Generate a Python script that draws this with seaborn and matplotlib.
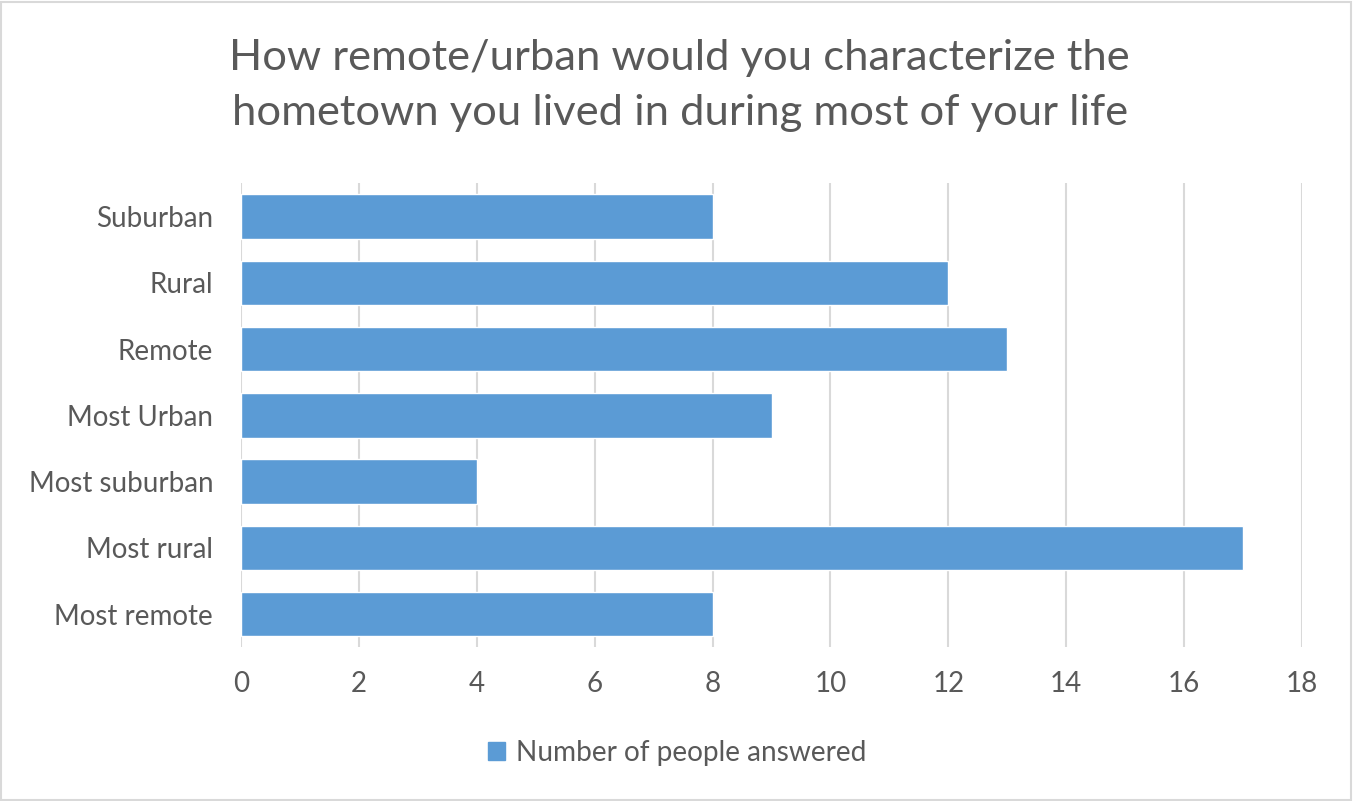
import pandas as pd
import matplotlib.pyplot as plt
import seaborn as sns
from matplotlib.patches import Rectangle, Patch

sns.set_theme(style="white")
plt.rcParams['font.family'] = ['Lato', 'DejaVu Sans']

categories = ['Suburban', 'Rural', 'Remote', 'Most Urban', 'Most suburban', 'Most rural', 'Most remote']
counts = [8, 12, 13, 9, 4, 17, 8]
x_ticks = [0, 2, 4, 6, 8, 10, 12, 14, 16, 18]

df = pd.DataFrame({'category': categories, 'count': counts})

text_color = '#595959'
bar_color = '#5B9BD5'

fig = plt.figure(figsize=(13.54, 8.01), dpi=100)
ax = fig.add_axes([0.178, 0.192, 0.7836, 0.579])

sns.barplot(data=df, x='count', y='category', color=bar_color, saturation=1,
            width=0.67, ax=ax, order=categories)

ax.set_xlim(0, 18)
ax.set_xticks(x_ticks)
ax.xaxis.grid(True, color='#D9D9D9', linewidth=1.5)
ax.set_axisbelow(True)
for s in ax.spines.values():
    s.set_visible(False)
ax.set_xlabel('')
ax.set_ylabel('')
ax.tick_params(axis='both', length=0, labelsize=20, colors=text_color)
ax.tick_params(axis='y', pad=20)
ax.tick_params(axis='x', pad=17)

fig.text(0.502, 0.893, 'How remote/urban would you characterize the\nhometown you lived in during most of your life',
         ha='center', va='center', fontsize=31.3, color=text_color, linespacing=1.55)

ax.legend(handles=[Patch(color=bar_color, label='Number of people answered')],
          loc='center', bbox_to_anchor=(0.5, 0.06), bbox_transform=fig.transFigure,
          frameon=False, fontsize=20.2, labelcolor=text_color,
          handlelength=0.6, handleheight=0.6, handletextpad=0.4)

fig.patches.append(Rectangle((0.001, 0.001), 0.997, 0.997, transform=fig.transFigure,
                             fill=False, edgecolor='#D9D9D9', linewidth=1.5))

plt.savefig('out.png', dpi=100)
